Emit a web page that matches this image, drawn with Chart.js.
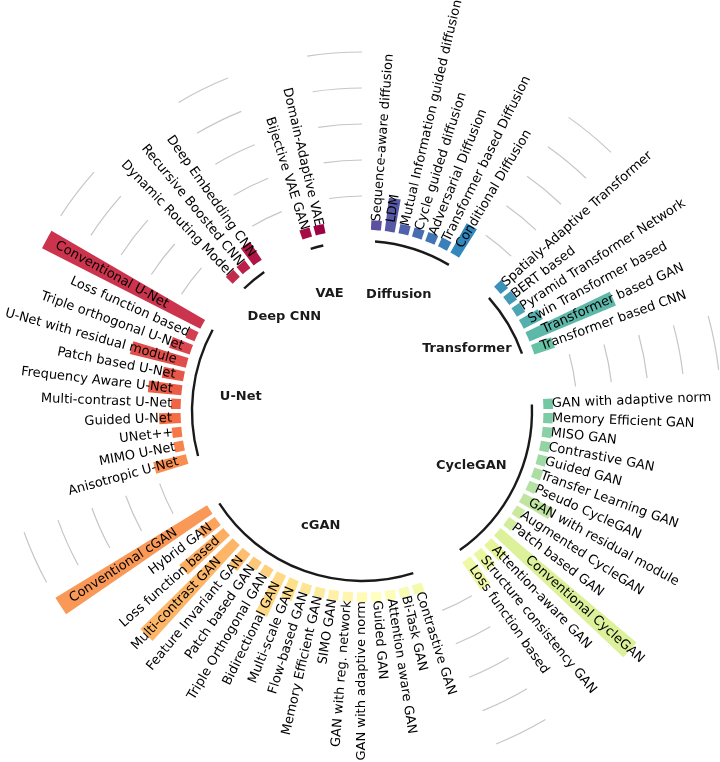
<!DOCTYPE html>
<html>
<head>
<meta charset="utf-8">
<script src="https://cdn.jsdelivr.net/npm/chart.js@4.4.1/dist/chart.umd.min.js"></script>
<style>
  html, body { margin: 0; padding: 0; background: #fff; }
  canvas { display: block; }
</style>
</head>
<body>
<canvas id="modelsChart" width="720" height="762"></canvas>
<script>
// groups go clockwise from the top, bars inside each group too
const groupNames = ["Diffusion", "Transformer", "CycleGAN", "cGAN", "U-Net", "Deep CNN", "VAE"];

const diffusionLabels = ["Sequence-aware diffusion", "LDM", "Mutual Information guided diffusion",
  "Cycle guided diffusion", "Adversarial Diffusion", "Transformer based Diffusion", "Conditional Diffusion"];
const diffusionValues = [1, 3, 1, 1, 1, 1, 3];

const transformerLabels = ["Spatialy-Adaptive Transformer", "BERT based", "Pyramid Transformer Network",
  "Swin Transformer based", "Transformer based GAN", "Transformer based CNN"];
const transformerValues = [1, 1, 1, 2, 8, 2];

const cycleganLabels = ["GAN with adaptive norm", "Memory Efficient GAN", "MISO GAN", "Contrastive GAN",
  "Guided GAN", "Transfer Learning GAN", "Pseudo CycleGAN", "GAN with residual module", "Augmented CycleGAN",
  "Patch based GAN", "Conventional CycleGAN", "Attention-aware GAN", "Structure consistency GAN", "Loss function based"];
const cycleganValues = [1, 1, 1, 1, 1, 1, 1, 3, 1, 1, 15, 2, 2, 3];

const cganLabels = ["Contrastive GAN", "Bi-Task GAN", "Attention aware GAN", "Guided GAN", "GAN with adaptive norm",
  "GAN with reg. network", "SIMO GAN", "Memory Efficient GAN", "Flow-based GAN", "Multi-scale GAN",
  "Bidirectional GAN", "Triple Orthogonal GAN", "Patch based GAN", "Feature Invariant GAN", "Multi-contrast GAN",
  "Loss function based", "Hybrid GAN", "Conventional cGAN"];
const cganValues = [1, 1, 1, 1, 1, 1, 1, 1, 1, 2, 4, 1, 1, 2, 11, 5, 2, 15];

const unetLabels = ["Anisotropic U-Net", "MIMO U-Net", "UNet++", "Guided U-Net", "Multi-contrast U-Net",
  "Frequency Aware U-Net", "Patch based U-Net", "U-Net with residual module", "Triple orthogonal U-Net",
  "Loss function based", "Conventional U-Net"];
const unetValues = [3, 1, 1, 2, 1, 3, 2, 5, 2, 1, 15];

const deepcnnLabels = ["Dynamic Routing Model", "Recursive Boosted CNN", "Deep Embedding CNN"];
const deepcnnValues = [1, 1, 2];

const vaeLabels = ["Bijective VAE GAN", "Domain-Adaptive VAE"];
const vaeValues = [1, 1];

const gridValues = [3, 6, 9, 12, 15];

const groupLabels = [diffusionLabels, transformerLabels, cycleganLabels, cganLabels, unetLabels, deepcnnLabels, vaeLabels];
const groupValues = [diffusionValues, transformerValues, cycleganValues, cganValues, unetValues, deepcnnValues, vaeValues];

const GAP = 3;          // empty slots after each group
const BAR_FILL = 0.72;  // share of a slot covered by a bar
const BAR_BASE = 0.2;   // bars start slightly above zero
const RING_VALUE = -0.75;
const NAME_VALUE = -4.75;

const SPECTRAL = ["#9e0142", "#d53e4f", "#f46d43", "#fdae61", "#fee08b", "#ffffbf",
  "#e6f598", "#abdda4", "#66c2a5", "#3288bd", "#5e4fa2"];

const hexToRgb = (h) => [1, 3, 5].map((i) => parseInt(h.slice(i, i + 2), 16));

const spectral = (t) => {
  const p = Math.min(Math.max(t, 0), 1) * (SPECTRAL.length - 1);
  const i = Math.min(Math.floor(p), SPECTRAL.length - 2);
  const f = p - i;
  const a = hexToRgb(SPECTRAL[i]);
  const b = hexToRgb(SPECTRAL[i + 1]);
  const c = a.map((v, k) => Math.round(v + (b[k] - v) * f));
  return `rgb(${c[0]}, ${c[1]}, ${c[2]})`;
};

// one slot per bar, then GAP empty slots
const slots = [];
groupNames.forEach((name, g) => {
  groupLabels[g].forEach((label, k) => slots.push({ label, value: groupValues[g][k], group: g }));
  for (let k = 0; k < GAP; k++) slots.push({ label: "", value: 0, group: -1, gapOf: g });
});

const barCount = slots.filter((s) => s.label).length;
let barIndex = 0;
const colors = slots.map((s) =>
  s.label ? spectral(1 - barIndex++ / (barCount - 1)) : "rgba(0,0,0,0)"
);

const midAngle = (arc) => (arc.startAngle + arc.endAngle) / 2;

const radialBars = {
  id: "radialBars",
  afterDatasetsUpdate(chart) {
    const scale = chart.scales.r;
    const inner = scale.getDistanceFromCenterForValue(BAR_BASE);
    chart.getDatasetMeta(0).data.forEach((arc, i) => {
      if (!slots[i].label) return;
      const mid = midAngle(arc);
      const half = ((arc.endAngle - arc.startAngle) * BAR_FILL) / 2;
      arc.startAngle = mid - half;
      arc.endAngle = mid + half;
      arc.innerRadius = inner;
    });
  },
  beforeDatasetsDraw(chart) {
    const { ctx } = chart;
    const scale = chart.scales.r;
    const arcs = chart.getDatasetMeta(0).data;
    ctx.save();
    ctx.strokeStyle = "#c6c6c6";
    ctx.lineWidth = 1.2;
    groupNames.forEach((name, g) => {
      const idx = slots.map((s, i) => (s.gapOf === g ? i : -1)).filter((i) => i >= 0);
      const a0 = midAngle(arcs[idx[0]]);
      const a1 = midAngle(arcs[idx[idx.length - 1]]);
      gridValues.forEach((v) => {
        ctx.beginPath();
        ctx.arc(scale.xCenter, scale.yCenter, scale.getDistanceFromCenterForValue(v), a0, a1);
        ctx.stroke();
      });
    });
    ctx.restore();
  },
  afterDatasetsDraw(chart) {
    const { ctx } = chart;
    const scale = chart.scales.r;
    const cx = scale.xCenter;
    const cy = scale.yCenter;
    const arcs = chart.getDatasetMeta(0).data;
    const zeroR = scale.getDistanceFromCenterForValue(0);

    // group rings and names
    const ringR = scale.getDistanceFromCenterForValue(RING_VALUE);
    const nameR = scale.getDistanceFromCenterForValue(NAME_VALUE);
    ctx.save();
    ctx.strokeStyle = "#1a1a1a";
    ctx.lineWidth = 2.4;
    ctx.fillStyle = "#1a1a1a";
    ctx.font = 'bold 13px "DejaVu Sans"';
    ctx.textAlign = "center";
    ctx.textBaseline = "middle";
    groupNames.forEach((name, g) => {
      const idx = slots.map((s, i) => (s.group === g ? i : -1)).filter((i) => i >= 0);
      const a0 = midAngle(arcs[idx[0]]);
      const a1 = midAngle(arcs[idx[idx.length - 1]]);
      ctx.beginPath();
      ctx.arc(cx, cy, ringR, a0, a1);
      ctx.stroke();
      const am = (a0 + a1) / 2;
      ctx.fillText(name, cx + nameR * Math.cos(am), cy + nameR * Math.sin(am));
    });
    ctx.restore();

    // bar labels along the radius
    ctx.save();
    ctx.fillStyle = "#000";
    ctx.font = '13px "DejaVu Sans"';
    ctx.textBaseline = "middle";
    slots.forEach((s, i) => {
      if (!s.label) return;
      const a = midAngle(arcs[i]);
      const r = zeroR + 11 + 0.16 * (s.value - 1) ** 2;
      ctx.save();
      ctx.translate(cx, cy);
      if (Math.cos(a) >= 0) {
        ctx.rotate(a);
        ctx.textAlign = "left";
        ctx.fillText(s.label, r, 0);
      } else {
        ctx.rotate(a + Math.PI);
        ctx.textAlign = "right";
        ctx.fillText(s.label, -r, 0);
      }
      ctx.restore();
    });
    ctx.restore();
  },
};

new Chart("modelsChart", {
  type: "polarArea",
  data: {
    labels: slots.map((s) => s.label),
    datasets: [
      {
        data: slots.map((s) => s.value),
        backgroundColor: colors,
        borderWidth: 0,
        clip: false,
      },
    ],
  },
  options: {
    responsive: false,
    animation: false,
    events: [],
    layout: { padding: { left: 11, right: 7, top: 60, bottom: 0 } },
    plugins: {
      legend: { display: false },
      tooltip: { enabled: false },
    },
    scales: {
      r: {
        min: -14.9167,
        max: 14.3333,
        startAngle: 2.2,
        grid: { display: false },
        angleLines: { display: false },
        ticks: { display: false },
        pointLabels: { display: false },
      },
    },
  },
  plugins: [radialBars],
});
</script>
</body>
</html>
